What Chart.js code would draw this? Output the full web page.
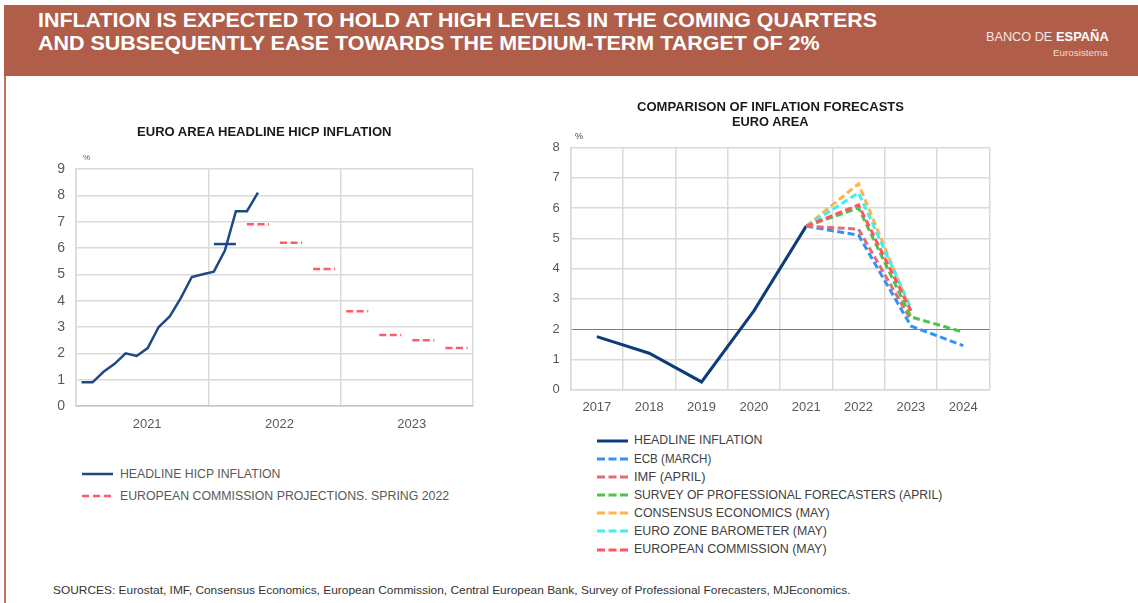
<!DOCTYPE html>
<html><head><meta charset="utf-8">
<script src="https://cdn.jsdelivr.net/npm/chart.js@4.4.1/dist/chart.umd.min.js"></script>
<style>
html,body{margin:0;padding:0;background:#fff;width:1138px;height:603px;overflow:hidden;font-family:"Liberation Sans",Arial,sans-serif;}
#band{position:absolute;left:4px;top:5px;width:1134px;height:71px;background:#b05d4a;}
#leftline{position:absolute;left:4px;top:76px;width:2px;height:527px;background:#c4705e;}
.t{position:absolute;white-space:nowrap;transform-origin:0 50%;}
canvas{position:absolute;}
svg{position:absolute;}
</style></head><body>
<div id="band"></div><div id="leftline"></div>
<canvas id="left" width="500" height="360" style="left:0;top:80px;width:500px;height:360px"></canvas>
<canvas id="right" width="470" height="340" style="left:540px;top:80px;width:470px;height:340px"></canvas>
<script>
// ---------- DATA ----------
// Left chart: euro area headline HICP inflation, monthly Jan 2021 - May 2022
const leftYears = ['2021', '2022', '2023'];
const headlineHicp = [0.9, 0.9, 1.3, 1.6, 2.0, 1.9, 2.2, 3.0, 3.4, 4.1, 4.9, 5.0, 5.1, 5.9, 7.4, 7.4, 8.1];
const q1Label = '2022Q1';
const q1Average = 6.15;
const ecQuarters = ['2022Q2', '2022Q3', '2022Q4', '2023Q1', '2023Q2', '2023Q3', '2023Q4'];
const ecProjections = [6.9, 6.2, 5.2, 3.6, 2.7, 2.5, 2.2];
const leftYTicks = [0, 1, 2, 3, 4, 5, 6, 7, 8, 9];

// Right chart: comparison of inflation forecasts, euro area (annual)
const years = ['2017', '2018', '2019', '2020', '2021', '2022', '2023', '2024'];
const headlineInflation = [1.75, 1.2, 0.25, 2.6, 5.4, null, null, null];
const ecbMarch      = [null, null, null, null, 5.4, 5.1, 2.1, 1.45];
const imfApril      = [null, null, null, null, 5.4, 5.3, 2.3, null];
const spfApril      = [null, null, null, null, 5.4, 6.0, 2.4, 1.9];
const consensusMay  = [null, null, null, null, 5.4, 6.8, 2.6, null];
const barometerMay  = [null, null, null, null, 5.4, 6.5, 2.7, null];
const ecMay         = [null, null, null, null, 5.4, 6.1, 2.6, null];
const rightYTicks = [0, 1, 2, 3, 4, 5, 6, 7, 8];

const leftLegend = ['HEADLINE HICP INFLATION', 'EUROPEAN COMMISSION PROJECTIONS. SPRING 2022'];
const rightLegend = ['HEADLINE INFLATION', 'ECB (MARCH)', 'IMF (APRIL)', 'SURVEY OF PROFESSIONAL FORECASTERS (APRIL)',
  'CONSENSUS ECONOMICS (MAY)', 'EURO ZONE BAROMETER (MAY)', 'EUROPEAN COMMISSION (MAY)'];

// ---------- STYLES ----------
const NAVY = '#1d4a86', NAVY2 = '#0d3d78';
const EC_RED = '#ff5a6b';
const rightColors = [NAVY2, '#3392f5', '#dd6e7a', '#4cc44a', '#ffb24e', '#3ff0ee', '#ff5563'];
const TICK = '#595959', GRID = '#dadada';

// ---------- TEXT HELPERS ----------
const texts = [];
function addText(str, o) {
  const d = document.createElement('div');
  d.className = 't';
  d.textContent = str;
  d.style.fontSize = o.size + 'px';
  d.style.lineHeight = o.size + 'px';
  d.style.fontWeight = o.weight || 'normal';
  d.style.color = o.color || '#333';
  d.style.top = (o.cy - o.size / 2) + 'px';
  document.body.appendChild(d);
  texts.push({ d, o });
  return d;
}
function fitTexts() {
  texts.forEach(({ d, o }) => {
    const w = d.offsetWidth;
    const target = o.w || w;
    const s = target / w;
    d.style.transform = 'scaleX(' + s + ')';
    let left = o.x;
    if (o.align === 'center') left = o.x - target / 2;
    else if (o.align === 'right') left = o.x - target;
    d.style.left = left + 'px';
  });
}

// Header
addText('INFLATION IS EXPECTED TO HOLD AT HIGH LEVELS IN THE COMING QUARTERS', { x: 38, cy: 19.5, size: 21, weight: 'bold', color: '#fff', w: 839 });
addText('AND SUBSEQUENTLY EASE TOWARDS THE MEDIUM-TERM TARGET OF 2%', { x: 38, cy: 42.5, size: 21, weight: 'bold', color: '#fff', w: 782 });
addText('BANCO DE', { x: 986, cy: 37, size: 12.5, weight: 'normal', color: '#f6e6e2', w: 66 });
addText('ESPAÑA', { x: 1055.5, cy: 37, size: 12.5, weight: 'bold', color: '#fff', w: 52.5 });
addText('Eurosistema', { x: 1108, cy: 52.5, size: 9.5, color: '#f3d9d2', w: 55, align: 'right' });

// Chart titles
addText('EURO AREA HEADLINE HICP INFLATION', { x: 264, cy: 131.5, size: 13, weight: 'bold', color: '#1a1a1a', w: 255, align: 'center' });
addText('COMPARISON OF INFLATION FORECASTS', { x: 770, cy: 106, size: 13, weight: 'bold', color: '#1a1a1a', w: 267, align: 'center' });
addText('EURO AREA', { x: 770, cy: 121.5, size: 13, weight: 'bold', color: '#1a1a1a', w: 77, align: 'center' });
addText('%', { x: 83, cy: 158, size: 8, color: '#595959' });
addText('%', { x: 575, cy: 136, size: 9, color: '#404040' });

// Sources
addText('SOURCES: Eurostat, IMF, Consensus Economics, European Commission, Central European Bank, Survey of Professional Forecasters, MJEconomics.',
  { x: 53, cy: 591, size: 11.5, color: '#333', w: 798 });

// Legends
function legendLine(x1, x2, y, color, width, dash) {
  const ns = 'http://www.w3.org/2000/svg';
  const s = document.createElementNS(ns, 'svg');
  s.setAttribute('width', x2 - x1 + 2); s.setAttribute('height', 8);
  s.style.left = (x1 - 1) + 'px'; s.style.top = (y - 4) + 'px';
  const l = document.createElementNS(ns, 'line');
  l.setAttribute('x1', 1); l.setAttribute('x2', x2 - x1 + 1);
  l.setAttribute('y1', 4); l.setAttribute('y2', 4);
  l.setAttribute('stroke', color); l.setAttribute('stroke-width', width);
  if (dash) l.setAttribute('stroke-dasharray', dash);
  s.appendChild(l);
  document.body.appendChild(s);
}
const leftLegendWidths = [160, 329];
leftLegend.forEach((lab, i) => {
  const y = 474 + i * 22;
  legendLine(82, 113, y, i === 0 ? NAVY : EC_RED, 2.5, i === 0 ? null : '7 4');
  addText(lab, { x: 120, cy: y, size: 12.5, color: '#595959', w: leftLegendWidths[i] });
});
const rightLegendWidths = [128, 77, 71, 308, 196, 193, 193];
rightLegend.forEach((lab, i) => {
  const y = 440.7 + i * 18.15;
  legendLine(597, 628, y, rightColors[i], 3, i === 0 ? null : '8 3.5');
  addText(lab, { x: 634, cy: y, size: 12.5, color: '#404040', w: rightLegendWidths[i] });
});

// ---------- CHARTS ----------
Chart.defaults.font.family = '"Liberation Sans", Arial, sans-serif';
Chart.defaults.animation = false;

// Left chart data built from arrays
function quarterStart(q) { return (parseInt(q.slice(0, 4)) - 2021) * 12 + (parseInt(q.slice(5)) - 1) * 3; }
const headlinePts = headlineHicp.map((v, i) => ({ x: i + 0.5, y: v }));
const q1Pts = [{ x: quarterStart(q1Label) + 0.5, y: q1Average }, { x: quarterStart(q1Label) + 2.5, y: q1Average }];
const ecPts = [];
ecQuarters.forEach((q, i) => {
  const m = quarterStart(q);
  ecPts.push({ x: m + 0.5, y: ecProjections[i] }, { x: m + 2.5, y: ecProjections[i] }, { x: m + 2.8, y: null });
});
const LABEL_POS = 6.45; // year label position within each 12-month span

new Chart(document.getElementById('left'), {
  type: 'line',
  data: {
    datasets: [
      { label: leftLegend[0], data: headlinePts, borderColor: NAVY, borderWidth: 2.5, pointRadius: 0, tension: 0 },
      { label: 'Q1 2022', data: q1Pts, borderColor: NAVY, borderWidth: 2.5, pointRadius: 0 },
      { label: leftLegend[1], data: ecPts, borderColor: EC_RED, borderWidth: 2.5, borderDash: [7, 3.5], pointRadius: 0, spanGaps: false, borderCapStyle: 'butt' }
    ]
  },
  options: {
    responsive: false, devicePixelRatio: 1,
    layout: { padding: { left: 0, right: 27, top: 89, bottom: 4 } },
    plugins: { legend: { display: false }, tooltip: { enabled: false } },
    scales: {
      x: {
        type: 'linear', min: 0, max: 36,
        afterBuildTicks: s => { s.ticks = [0, LABEL_POS, 12, 12 + LABEL_POS, 24, 24 + LABEL_POS, 36].map(v => ({ value: v })); },
        afterFit: s => { s.height = 30; },
        ticks: { autoSkip: false, maxRotation: 0, padding: 11, color: TICK, font: { size: 13 },
          callback: v => (v % 12 !== 0 ? leftYears[Math.floor(v / 12)] : '') },
        grid: { drawTicks: false, lineWidth: 1.5, color: c => (c.tick && c.tick.value % 12 === 0 ? GRID : 'rgba(0,0,0,0)') },
        border: { color: '#c4c4c4', width: 1.5 }
      },
      y: {
        min: 0, max: 9,
        afterBuildTicks: s => { s.ticks = leftYTicks.map(v => ({ value: v })); },
        afterFit: s => { s.width = 76; },
        ticks: { padding: 11, color: TICK, font: { size: 14 } },
        grid: { drawTicks: false, lineWidth: 1.5, color: GRID },
        border: { color: GRID, width: 1.5 }
      }
    }
  }
});

const rightSeries = [headlineInflation, ecbMarch, imfApril, spfApril, consensusMay, barometerMay, ecMay];
new Chart(document.getElementById('right'), {
  type: 'line',
  data: {
    labels: years,
    datasets: rightSeries.map((arr, i) => ({
      label: rightLegend[i], data: arr, borderColor: rightColors[i], borderWidth: 3,
      borderDash: i === 0 ? [] : [7, 3.5], pointRadius: 0, tension: 0, order: i === 0 ? 7 : 7 - i,
      borderJoinStyle: 'miter'
    }))
  },
  options: {
    responsive: false, devicePixelRatio: 1,
    layout: { padding: { left: 0, right: 20.6, top: 67.5, bottom: 0.5 } },
    plugins: { legend: { display: false }, tooltip: { enabled: false } },
    scales: {
      x: {
        offset: true,
        afterFit: s => { s.height = 30; },
        ticks: { padding: 10, color: TICK, font: { size: 13 }, maxRotation: 0 },
        grid: { offset: true, drawTicks: false, lineWidth: 1.5, color: GRID },
        border: { color: GRID, width: 1.5 }
      },
      y: {
        min: 0, max: 8,
        afterBuildTicks: s => { s.ticks = rightYTicks.map(v => ({ value: v })); },
        afterFit: s => { s.width = 30.7; },
        ticks: { padding: 11, color: TICK, font: { size: 13 } },
        grid: { drawTicks: false, lineWidth: c => (c.tick && c.tick.value === 2 ? 1 : 1.5),
          color: c => (c.tick && c.tick.value === 2 ? '#7a7a7a' : GRID), z: 0 },
        border: { color: GRID, width: 1.5 }
      }
    }
  }
});

fitTexts();
if (document.fonts && document.fonts.ready) document.fonts.ready.then(fitTexts);
</script>
</body></html>
